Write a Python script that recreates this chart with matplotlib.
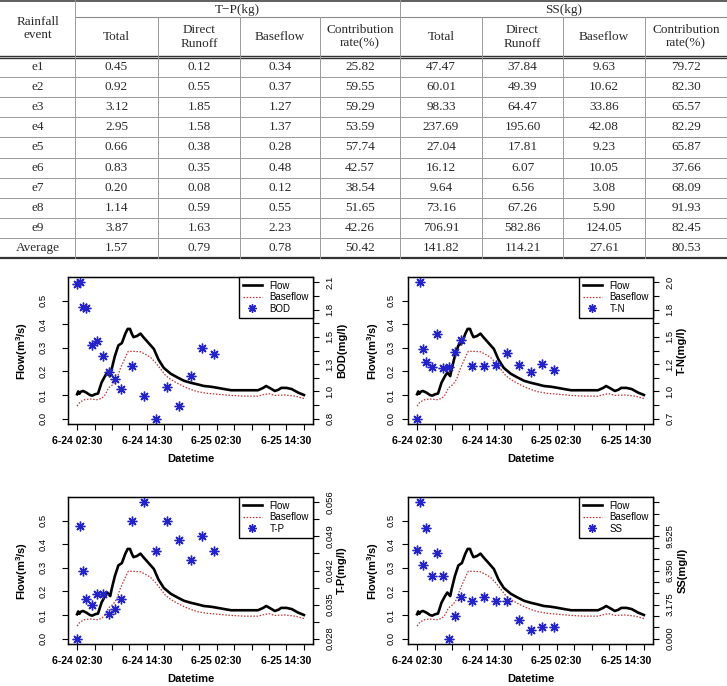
import matplotlib
matplotlib.use("Agg")
import matplotlib.pyplot as plt
from matplotlib.lines import Line2D

plt.rcParams['font.family'] = ['Liberation Sans', 'DejaVu Sans']
plt.rcParams['mathtext.default'] = 'regular'

# ---------------- table data ----------------
events = ['e1', 'e2', 'e3', 'e4', 'e5', 'e6', 'e7', 'e8', 'e9', 'Average']
sub_heads = ['Total', 'Direct\nRunoff', 'Baseflow', 'Contribution\nrate(%)']
tp_total = [0.45, 0.92, 3.12, 2.95, 0.66, 0.83, 0.20, 1.14, 3.87, 1.57]
tp_direct = [0.12, 0.55, 1.85, 1.58, 0.38, 0.35, 0.08, 0.59, 1.63, 0.79]
tp_base = [0.34, 0.37, 1.27, 1.37, 0.28, 0.48, 0.12, 0.55, 2.23, 0.78]
tp_rate = [25.82, 59.55, 59.29, 53.59, 57.74, 42.57, 38.54, 51.65, 42.26, 50.42]
ss_total = [47.47, 60.01, 98.33, 237.69, 27.04, 16.12, 9.64, 73.16, 706.91, 141.82]
ss_direct = [37.84, 49.39, 64.47, 195.60, 17.81, 6.07, 6.56, 67.26, 582.86, 114.21]
ss_base = [9.63, 10.62, 33.86, 42.08, 9.23, 10.05, 3.08, 5.90, 124.05, 27.61]
ss_rate = [79.72, 82.30, 65.57, 82.29, 65.87, 37.66, 68.09, 91.93, 82.45, 80.53]

# ---------------- hydrograph (hours after 6-24 02:30) ----------------
flow_t = [0, 0.2, 0.4, 0.6, 1.0, 1.6, 2.2, 2.6, 3.1, 3.6, 4.2, 4.8, 5.2, 5.7, 5.95,
          6.5, 7.1, 7.7, 8.3, 8.7, 9.1, 9.4, 9.7, 10.3, 10.9, 11.4, 12.3, 13.2, 14.0,
          14.9, 16.1, 17.2, 18.4, 19.5, 20.7, 21.8, 23.0, 24.2, 25.3, 26.5, 28.8, 31.1,
          32.0, 32.5, 33.1, 34.0, 34.6, 35.1, 36.0, 36.9, 38.0, 39.0]
flow_q = [0.103, 0.115, 0.105, 0.113, 0.117, 0.11, 0.1, 0.097, 0.103, 0.106, 0.152,
          0.18, 0.195, 0.18, 0.21, 0.265, 0.31, 0.32, 0.36, 0.38, 0.38, 0.36, 0.345,
          0.35, 0.36, 0.345, 0.32, 0.295, 0.25, 0.215, 0.19, 0.175, 0.16, 0.152, 0.145,
          0.138, 0.135, 0.13, 0.125, 0.12, 0.12, 0.12, 0.13, 0.138, 0.13, 0.117, 0.122,
          0.13, 0.13, 0.125, 0.11, 0.1]
base_t = [0, 0.5, 1.3, 2.2, 3.4, 4.2, 4.8, 5.4, 6.2, 6.8, 7.4, 8.3, 8.8, 9.7, 10.9,
          11.7, 12.6, 13.5, 14.3, 15.2, 16.1, 17.2, 18.4, 19.5, 20.7, 22.4, 24.2, 26.5,
          28.8, 31.1, 32.3, 33.1, 34.0, 35.7, 37.5, 39.0]
base_q = [0.053, 0.07, 0.08, 0.083, 0.08, 0.085, 0.1, 0.13, 0.145, 0.167, 0.21, 0.26,
          0.285, 0.285, 0.283, 0.273, 0.26, 0.237, 0.212, 0.183, 0.166, 0.15, 0.135,
          0.124, 0.114, 0.107, 0.103, 0.098, 0.095, 0.095, 0.103, 0.105, 0.098, 0.1,
          0.095, 0.085]

# water quality samples
t_sample = [0, 0.5, 1, 1.5, 2.5, 3.5, 4.5, 5.5, 6.5, 7.5, 9.5, 11.5, 13.5, 15.5,
            17.5, 19.5, 21.5, 23.5]
bod = [2.04, 2.05, 1.82, 1.81, 1.46, 1.50, 1.36, 1.21, 1.14, 1.05, 1.26, 0.98, 0.77,
       1.07, 0.89, 1.17, 1.43, 1.38]
tn = [0.70, 2.05, 1.39, 1.26, 1.21, 1.54, 1.20, 1.21, 1.36, 1.48, 1.22, 1.22, 1.23,
      1.35, 1.23, 1.16, 1.24, 1.18]
tp = [0.028, 0.0511, 0.0420, 0.0361, 0.0350, 0.0371, 0.0371, 0.0331, 0.0341, 0.0361,
      0.0521, 0.0560, 0.0461, 0.0521, 0.0482, 0.0441, 0.0491, 0.0461]
ss = [8.22, 12.7, 6.90, 10.3, 5.86, 7.94, 5.86, 0.0, 2.08, 3.84, 3.50, 3.84, 3.50,
      3.50, 1.76, 0.76, 1.07, 1.07]

bod_labels = ['0.8', '1.0', '1.3', '1.5', '1.8', '2.1']
tn_labels = ['0.7', '1.0', '1.2', '1.5', '1.8', '2.0']
tp_labels = ['0.028', '0.035', '0.042', '0.049', '0.056']
ss_labels = ['0.000', '3.175', '6.350', '9.525']

x_labels = ['6-24 02:30', '6-24 14:30', '6-25 02:30', '6-25 14:30']
flow_ticks = [0.0, 0.1, 0.2, 0.3, 0.4, 0.5]

W, H = 727, 686
fig = plt.figure(figsize=(W / 100, H / 100), dpi=100)

# ---------------- table (pixel coordinates) ----------------
tb = fig.add_axes([0, 0, 1, 1])
tb.set_xlim(0, W)
tb.set_ylim(H, 0)
tb.axis('off')

col_x = [0, 75, 158, 240, 320, 400, 482, 563, 645, 727]
y_grp = 17
y_head = 57
row_h = 20.1
y_bot = y_head + row_h * len(events)

serif = ['Liberation Serif', 'DejaVu Serif']
kw = dict(ha='center', va='center', family=serif, color='#2a2a2a', fontsize=9.5)

tb.text(37.5, y_head / 2, 'Rainfall\nevent', linespacing=1.15, **kw)
tb.text((col_x[1] + col_x[5]) / 2, y_grp / 2 + 1, 'T−P(kg)', **kw)
tb.text((col_x[5] + col_x[9]) / 2, y_grp / 2 + 1, 'SS(kg)', **kw)
for i, h in enumerate(sub_heads * 2):
    tb.text((col_x[i + 1] + col_x[i + 2]) / 2, (y_grp + y_head) / 2, h,
            linespacing=1.15, **kw)

columns = [tp_total, tp_direct, tp_base, tp_rate, ss_total, ss_direct, ss_base, ss_rate]
for r, ev in enumerate(events):
    yc = y_head + row_h * (r + 0.5)
    tb.text(37.5, yc, ev, **kw)
    for c, vals in enumerate(columns):
        tb.text((col_x[c + 1] + col_x[c + 2]) / 2, yc, f'{vals[r]:.2f}', **kw)

tb.plot([0, W], [0.5, 0.5], color='#444444', lw=1.2)
tb.plot([75, W], [y_grp, y_grp], color='#8a8a8a', lw=0.8)
tb.plot([0, W], [y_head - 1.2, y_head - 1.2], color='#333333', lw=1.0)
tb.plot([0, W], [y_head + 0.8, y_head + 0.8], color='#333333', lw=1.0)
for r in range(1, len(events)):
    y = y_head + row_h * r
    tb.plot([0, W], [y, y], color='#9a9a9a', lw=0.7)
tb.plot([0, W], [y_bot, y_bot], color='#333333', lw=1.6)
for x in col_x[1:-1]:
    y0 = 0 if x in (75, 400) else y_grp
    tb.plot([x, x], [y0, y_bot], color='#9a9a9a', lw=0.7)

# ---------------- hydrograph panels ----------------
panels = [
    (68, 277, t_sample, bod, 'BOD', 'BOD(mg/l)', 11, 2, bod_labels, True),
    (408, 277, t_sample, tn, 'T-N', 'T-N(mg/l)', 11, 2, tn_labels, False),
    (68, 497, t_sample, tp, 'T-P', 'T-P(mg/l)', 9, 2, tp_labels, True),
    (408, 497, t_sample, ss, 'SS', 'SS(mg/l)', 13, 3, ss_labels, False),
]
aw, ah = 245, 147
blue = '#2323c8'

for x0, y0, ts, conc, name, ylab2, nt, every, labs, left_col in panels:
    ax = fig.add_axes([x0 / W, 1 - (y0 + ah) / H, aw / W, ah / H])
    ax.plot(flow_t, flow_q, color='black', lw=1.9)
    ax.plot(base_t, base_q, color='#c83232', lw=0.9, ls=(0, (1.2, 1.3)))
    ax.set_xlim(-1.56, 40.56)
    fmax = 0.577
    ax.set_ylim(-0.04 * fmax, 1.04 * fmax)
    ax.set_xticks(range(0, 40, 3))
    ax.set_xticklabels([x_labels[i // 4] if i % 4 == 0 else '' for i in range(14)],
                       fontsize=7.6, fontweight='bold')
    ax.set_yticks(flow_ticks)
    ax.set_yticklabels([f'{v:.1f}' for v in flow_ticks], fontsize=6.8,
                       rotation=90, va='center')
    ax.tick_params(direction='out', length=4, width=0.8, pad=5)
    ax.tick_params(axis='y', pad=11 if left_col else 5)
    ax.set_xlabel('Datetime', fontsize=8, fontweight='bold', labelpad=5.5)
    ax.set_ylabel('Flow(m$^3$/s)', fontsize=8, fontweight='bold',
                  labelpad=6 if left_col else 4)
    for sp in ax.spines.values():
        sp.set_linewidth(1.0)

    ax2 = ax.twinx()
    lo, hi = min(conc), max(conc)
    pad = 0.04 * (hi - lo)
    ax2.set_ylim(lo - pad, hi + pad)
    ax2.plot(ts, conc, ls='none', marker=(8, 2, 0), ms=7, mew=1.0, color=blue)
    ticks = [lo + (hi - lo) * k / (nt - 1) for k in range(nt)]
    tl = [''] * nt
    for k, s in zip(range(0, nt, every), labs):
        tl[k] = s
    ax2.set_yticks(ticks)
    ax2.set_yticklabels(tl, fontsize=6.8, rotation=90, va='center')
    ax2.tick_params(direction='out', length=4, width=0.8, pad=5)
    ax2.set_ylabel(ylab2, fontsize=8, fontweight='bold', labelpad=2)

    handles = [Line2D([], [], color='black', lw=1.9),
               Line2D([], [], color='#c83232', lw=0.9, ls=(0, (1.2, 1.3))),
               Line2D([], [], ls='none', marker=(8, 2, 0), ms=6, mew=1.0, color=blue)]
    leg = ax2.legend(handles, ['Flow', 'Baseflow', name], loc='upper right',
                     borderaxespad=0, fancybox=False, edgecolor='black',
                     framealpha=1, fontsize=7, handlelength=2.0, borderpad=0.4,
                     labelspacing=0.15, handletextpad=0.8)
    leg.get_frame().set_linewidth(1.0)

fig.savefig('out.png', dpi=100)
